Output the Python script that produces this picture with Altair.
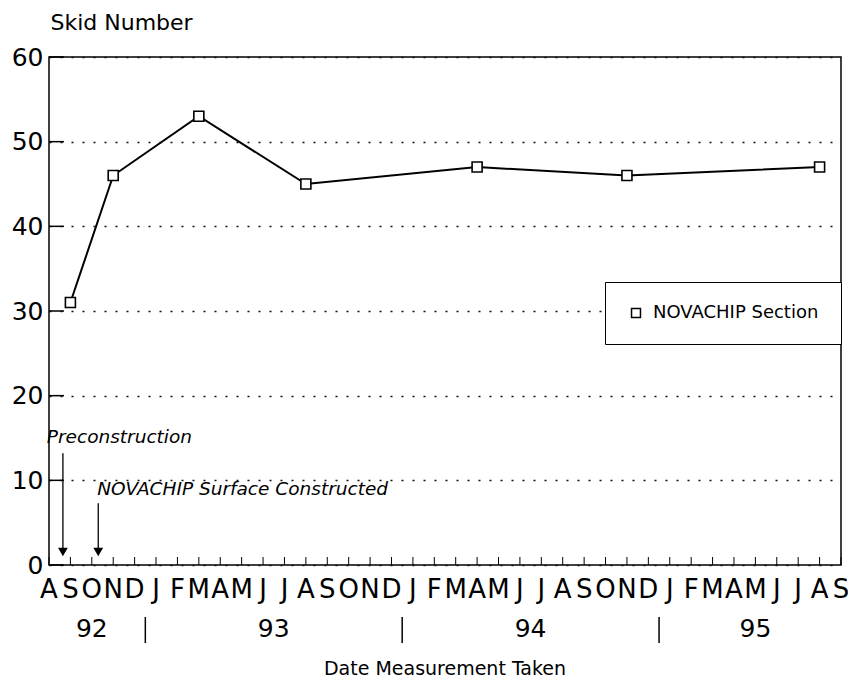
import altair as alt
import pandas as pd

# ---- data ----
month_letters = (list("ASOND") + list("JFMAMJJASOND") + list("JFMAMJJASOND")
                 + list("JFMAMJJAS"))
year_labels = ["92", "93", "94", "95"]
months_per_year = [5, 12, 12, 9]

measured_on = ["Sep 92", "Nov 92", "Mar 93", "Aug 93", "Apr 94", "Nov 94", "Aug 95"]
skid_number = [31, 46, 53, 45, 47, 46, 47]
series_name = "NOVACHIP Section"

y_ticks = [0, 10, 20, 30, 40, 50, 60]

annot_labels = ["Preconstruction", "NOVACHIP Surface Constructed"]
annot_arrow_month = [0.65, 2.3]
annot_text_month = [-0.1, 2.25]
annot_text_level = [14.4, 8.3]
annot_arrow_top = [13.2, 7.3]

y_title = "Skid Number"
x_title = "Date Measurement Taken"

# ---- derived tables ----
MON = ["Jan", "Feb", "Mar", "Apr", "May", "Jun", "Jul", "Aug", "Sep", "Oct", "Nov", "Dec"]


def month_index(s):
    mon, yy = s.split()
    return (int(yy) - 92) * 12 + MON.index(mon) + 1 - 8


meas = pd.DataFrame({
    "m": [month_index(s) for s in measured_on],
    "skid": skid_number,
    "series": series_name,
})
months = pd.DataFrame({"m": list(range(len(month_letters))), "letter": month_letters})

starts = []
acc = 0
for c in months_per_year:
    starts.append(acc)
    acc += c
years = pd.DataFrame({
    "year": year_labels,
    "center": [s + (c - 1) / 2 for s, c in zip(starts, months_per_year)],
})
bounds = pd.DataFrame({"b": [s + c - 0.5 for s, c in zip(starts, months_per_year)][:-1]})

annots = pd.DataFrame({
    "label": annot_labels,
    "ax": annot_arrow_month,
    "tx": annot_text_month,
    "ty": annot_text_level,
    "atop": annot_arrow_top,
})
yt = pd.DataFrame({"v": y_ticks})
title_df = pd.DataFrame({"t": [x_title]})

W, H = 792, 508
FONT = "DejaVu Sans"

xs = alt.Scale(domain=[0, len(month_letters) - 1], nice=False, zero=False)
ys = alt.Scale(domain=[0, 60], nice=False, zero=True)

Y_AXIS = alt.Axis(
    values=y_ticks, labelFont=FONT, labelFontSize=25, labelColor="black",
    labelPadding=6, ticks=False, domain=False,
    grid=True, gridDash=[2, 9], gridColor="#111111", gridWidth=1.5,
    title=y_title, titleAngle=0, titleX=1, titleY=-28, titleAlign="left",
    titleBaseline="alphabetic", titleFont=FONT, titleFontSize=22,
    titleFontWeight="normal", titleColor="black")

LEGEND = alt.Legend(
    title=None, orient="none", legendX=556, legendY=225, padding=22,
    strokeColor="black", fillColor="white",
    symbolType="square", symbolSize=80, symbolFillColor="white",
    symbolStrokeColor="black", symbolStrokeWidth=1.5,
    labelFont=FONT, labelFontSize=18, labelColor="black", labelOffset=8,
    labelLimit=300)


def X(field):
    return alt.X(field, scale=xs, axis=None)


def Y(field):
    return alt.Y(field, scale=ys, axis=Y_AXIS)


line = alt.Chart(meas).mark_line(color="black", strokeWidth=2).encode(
    x=X("m:Q"), y=Y("skid:Q"))

points = alt.Chart(meas).mark_point(
    size=100, filled=False, fill="white", strokeWidth=1.6, opacity=1
).encode(
    x=X("m:Q"),
    y=Y("skid:Q"),
    color=alt.Color("series:N", scale=alt.Scale(range=["black"]), legend=LEGEND),
    shape=alt.Shape("series:N", scale=alt.Scale(range=["square"]), legend=LEGEND),
)

ytick_marks = alt.Chart(yt).mark_rule(color="black", strokeWidth=1.5).encode(
    y=Y("v:Q"), x=alt.value(0), x2=alt.value(15))

xtick_marks = alt.Chart(months).mark_rule(color="black", strokeWidth=1).encode(
    x=X("m:Q"), y=alt.value(H), y2=alt.value(H - 8))

month_text = alt.Chart(months).mark_text(
    font=FONT, fontSize=26, align="center", baseline="alphabetic", color="black"
).encode(x=X("m:Q"), y=alt.value(541), text="letter:N")

year_text = alt.Chart(years).mark_text(
    font=FONT, fontSize=25, align="center", baseline="alphabetic", color="black"
).encode(x=X("center:Q"), y=alt.value(580), text="year:N")

year_sep = alt.Chart(bounds).mark_rule(color="black", strokeWidth=1.5).encode(
    x=X("b:Q"), y=alt.value(560), y2=alt.value(586))

annot_text = alt.Chart(annots).mark_text(
    font=FONT, fontSize=18.5, fontStyle="italic", align="left",
    baseline="alphabetic", color="black"
).encode(x=X("tx:Q"), y=Y("ty:Q"), text="label:N")

arrows = alt.Chart(annots).mark_rule(color="black", strokeWidth=1.3).encode(
    x=X("ax:Q"), y=Y("atop:Q"), y2=alt.value(492))

heads = alt.Chart(annots).mark_point(
    shape="triangle-down", filled=True, color="black", size=95, opacity=1
).encode(x=X("ax:Q"), y=alt.value(495))

xtitle = alt.Chart(title_df).mark_text(
    font=FONT, fontSize=19, align="center", baseline="alphabetic", color="black"
).encode(x=alt.value(W / 2), y=alt.value(618), text="t:N")

chart = alt.layer(
    line, ytick_marks, xtick_marks, points, month_text, year_text, year_sep,
    annot_text, arrows, heads, xtitle
).properties(
    width=W, height=H,
    background="white",
    autosize=alt.AutoSizeParams(type="none"),
    padding={"left": 41, "top": 49, "right": 7, "bottom": 120},
).configure_view(stroke="black", strokeWidth=1.5)

chart.save("out.html", embed_options={"renderer": "svg", "actions": False})
